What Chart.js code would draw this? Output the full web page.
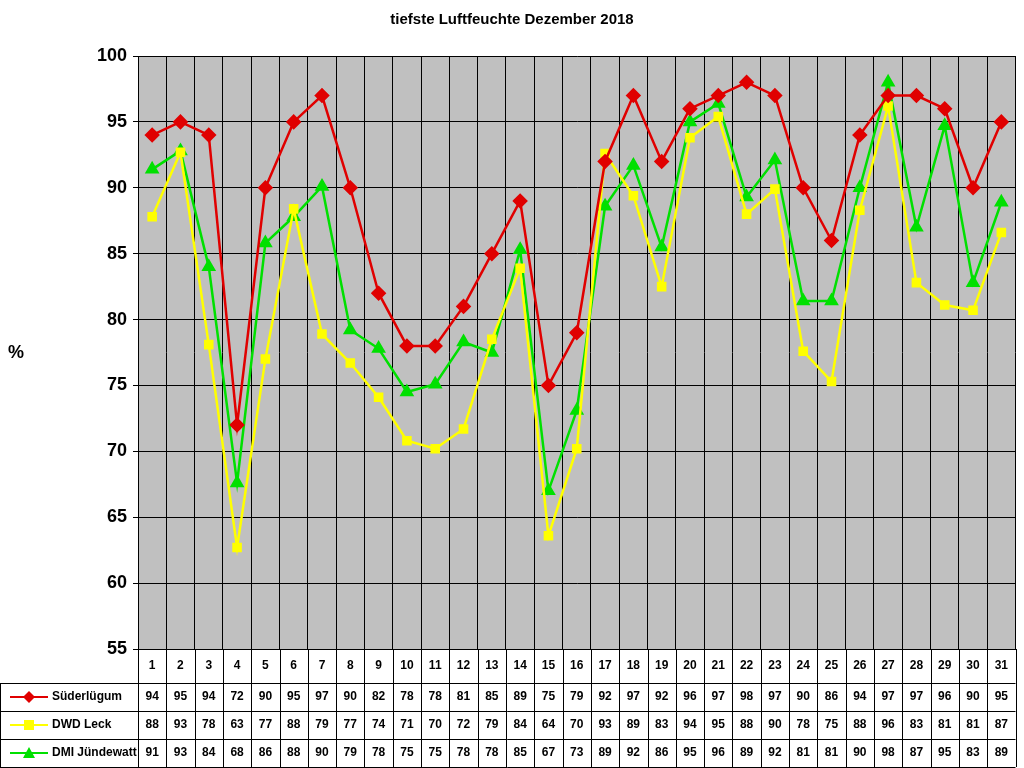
<!DOCTYPE html>
<html lang="de">
<head>
<meta charset="UTF-8">
<title>tiefste Luftfeuchte Dezember 2018</title>
<script src="https://cdn.jsdelivr.net/npm/chart.js"></script>
<style>
  html, body { margin: 0; padding: 0; background: #fff; }
  #wrap { width: 1024px; height: 768px; }
</style>
</head>
<body>
<div id="wrap"><canvas id="chart" width="1024" height="768"></canvas></div>
<script>
const days = Array.from({length: 31}, (_, i) => String(i + 1));
const suederluegum = [94,95,94,72,90,95,97,90,82,78,78,81,85,89,75,79,92,97,92,96,97,98,97,90,86,94,97,97,96,90,95];
const dwdLeck = [87.8,92.7,78.1,62.7,77,88.4,78.9,76.7,74.1,70.8,70.2,71.7,78.5,83.9,63.6,70.2,92.6,89.4,82.5,93.8,95.4,88,89.9,77.6,75.3,88.3,96.2,82.8,81.1,80.7,86.6];
const dmiJuendewatt = [91.4,92.8,84,67.6,85.8,87.8,90.1,79.2,77.8,74.5,75.1,78.3,77.5,85.3,67,73.1,88.6,91.7,85.5,95,96.4,89.3,92.1,81.4,81.4,90,98,87,94.7,82.8,88.9];
const yTicks = [55,60,65,70,75,80,85,90,95,100];

const series = [
  { label: 'Süderlügum', data: suederluegum, color: '#e00000', style: 'rectRot' },
  { label: 'DWD Leck', data: dwdLeck, color: '#ffff00', style: 'rect' },
  { label: 'DMI Jündewatt', data: dmiJuendewatt, color: '#00e000', style: 'triangle' }
];

const extras = {
  id: 'extras',
  beforeDraw(chart) {
    const { ctx, chartArea: a } = chart;
    ctx.save();
    ctx.fillStyle = '#c0c0c0';
    ctx.fillRect(a.left, a.top, a.right - a.left, a.bottom - a.top);
    ctx.restore();
  },
  afterDraw(chart) {
    const { ctx, chartArea: a, scales: { x } } = chart;
    ctx.save();
    // title and axis label
    ctx.fillStyle = '#000';
    ctx.font = 'bold 15px "Liberation Sans", Arial, sans-serif';
    ctx.textAlign = 'center';
    ctx.textBaseline = 'middle';
    ctx.fillText('tiefste Luftfeuchte Dezember 2018', 512, 20);
    ctx.font = 'bold 18px "Liberation Sans", Arial, sans-serif';
    ctx.fillText('%', 16, 353);

    // data table
    const rows = [649, 683, 711, 739, 767];
    const colW = (a.right - a.left) / days.length;
    ctx.strokeStyle = '#000';
    ctx.lineWidth = 1;
    ctx.beginPath();
    for (let i = 0; i <= days.length; i++) {
      const xx = Math.round(a.left + i * colW) + 0.5;
      ctx.moveTo(xx, rows[0]); ctx.lineTo(xx, rows[4]);
    }
    ctx.moveTo(a.left, rows[0] + 0.5); ctx.lineTo(a.right, rows[0] + 0.5);
    for (let r = 1; r < rows.length; r++) {
      ctx.moveTo(0, rows[r] + 0.5); ctx.lineTo(a.right, rows[r] + 0.5);
    }
    ctx.moveTo(0.5, rows[1]); ctx.lineTo(0.5, rows[4]);
    ctx.stroke();

    ctx.font = 'bold 12px "Liberation Sans", Arial, sans-serif';
    ctx.fillStyle = '#000';
    days.forEach((d, i) => {
      ctx.fillText(d, x.getPixelForValue(i), (rows[0] + rows[1]) / 2);
    });
    series.forEach((s, r) => {
      const cy = (rows[r + 1] + rows[r + 2]) / 2;
      s.data.forEach((v, i) => {
        ctx.fillStyle = '#000';
        ctx.fillText(String(Math.round(v)), x.getPixelForValue(i), cy);
      });
      // legend key
      ctx.strokeStyle = s.color;
      ctx.lineWidth = 2;
      ctx.beginPath(); ctx.moveTo(10, cy); ctx.lineTo(48, cy); ctx.stroke();
      ctx.fillStyle = s.color;
      ctx.beginPath();
      if (s.style === 'rectRot') {
        ctx.moveTo(29, cy - 6); ctx.lineTo(35, cy); ctx.lineTo(29, cy + 6); ctx.lineTo(23, cy);
      } else if (s.style === 'rect') {
        ctx.rect(24, cy - 5, 10, 10);
      } else {
        ctx.moveTo(29, cy - 6); ctx.lineTo(35, cy + 5); ctx.lineTo(23, cy + 5);
      }
      ctx.closePath(); ctx.fill();
      ctx.fillStyle = '#000';
      ctx.textAlign = 'left';
      ctx.fillText(s.label, 52, cy);
      ctx.textAlign = 'center';
    });
    ctx.restore();
  }
};

new Chart(document.getElementById('chart').getContext('2d'), {
  type: 'line',
  data: {
    labels: days,
    datasets: series.map(s => ({
      label: s.label,
      data: s.data,
      borderColor: s.color,
      backgroundColor: s.color,
      borderWidth: 2.5,
      pointStyle: s.style,
      pointRadius: s.style === 'rect' ? 5 : 6,
      pointHoverRadius: 6,
      tension: 0
    }))
  },
  options: {
    responsive: false,
    animation: false,
    layout: { padding: { top: 56, bottom: 119, right: 6, left: 0 } },
    plugins: { legend: { display: false }, tooltip: { enabled: false } },
    scales: {
      x: {
        offset: true,
        grid: { offset: true, color: '#000', drawTicks: false },
        border: { color: '#000' },
        ticks: { display: false },
        afterFit: s => { s.height = 0; }
      },
      y: {
        min: 55, max: 100,
        afterBuildTicks: s => { s.ticks = yTicks.map(v => ({ value: v })); },
        grid: { color: '#000', drawTicks: true, tickLength: 5 },
        border: { color: '#000' },
        ticks: { color: '#000', padding: 6, font: { size: 18, weight: 'bold', family: '"Liberation Sans", Arial, sans-serif' } },
        afterFit: s => { s.width = 138; }
      }
    }
  },
  plugins: [extras]
});
</script>
</body>
</html>
